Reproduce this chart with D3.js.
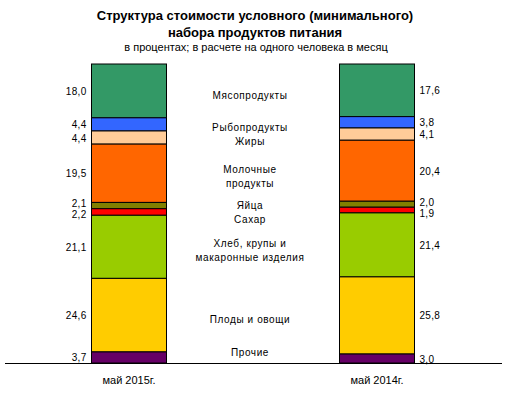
<!DOCTYPE html>
<html lang="ru">
<head>
  <meta charset="UTF-8">
  <title>Структура стоимости условного набора продуктов питания</title>
  <script src="https://cdn.jsdelivr.net/npm/d3@7"></script>
  <style>
    body { margin: 0; background: #fff; font-family: 'Liberation Sans', Arial, sans-serif; }
    svg { display: block; }
    .title { font-size: 13px; font-weight: bold; fill: #000; }
    .subtitle { font-size: 11px; fill: #000; }
    .val { font-size: 10px; fill: #000; letter-spacing: 0.3px; }
    .cat { font-size: 10px; fill: #000; letter-spacing: 0.6px; }
    .xlab { font-size: 11px; fill: #000; }
  </style>
</head>
<body>
  <svg id="chart" width="511" height="395"></svg>
  <script>
    const periods = ["май 2015г.", "май 2014г."];
    const categories = [
      "Мясопродукты", "Рыбопродукты", "Жиры", "Молочные продукты", "Яйца",
      "Сахар", "Хлеб, крупы и макаронные изделия", "Плоды и овощи", "Прочие"
    ];
    // label lines for the middle column
    const catLines = [
      ["Мясопродукты"], ["Рыбопродукты"], ["Жиры"], ["Молочные", "продукты"], ["Яйца"],
      ["Сахар"], ["Хлеб, крупы и", "макаронные изделия"], ["Плоды и овощи"], ["Прочие"]
    ];
    const values2015 = [18.0, 4.4, 4.4, 19.5, 2.1, 2.2, 21.1, 24.6, 3.7];
    const values2014 = [17.6, 3.8, 4.1, 20.4, 2.0, 1.9, 21.4, 25.8, 3.0];
    const colors = ["#339966", "#3366FF", "#FFCC99", "#FF6600", "#808000", "#FF0000", "#99CC00", "#FFCC00", "#660066"];

    const svg = d3.select("#chart");
    const fmt = v => v.toFixed(1).replace(".", ",");

    svg.append("text").attr("class", "title").attr("x", 255).attr("y", 20)
      .attr("text-anchor", "middle").text("Структура стоимости условного (минимального)");
    svg.append("text").attr("class", "title").attr("x", 255).attr("y", 37)
      .attr("text-anchor", "middle").text("набора продуктов питания");
    svg.append("text").attr("class", "subtitle").attr("x", 256).attr("y", 51)
      .attr("text-anchor", "middle").text("в процентах; в расчете на одного человека в месяц");

    const y = d3.scaleLinear().domain([0, 100]).range([363, 64]);
    const x = d3.scaleOrdinal().domain(periods).range([129, 377]);
    const barW = 75;

    const series = [values2015, values2014];
    const stacks = series.map(vals => {
      let acc = 100;
      return vals.map((v, i) => {
        const top = acc; acc -= v;
        return { i, v, top, bottom: acc };
      });
    });

    // keep labels from colliding
    function spread(pos, gap) {
      const out = pos.slice();
      for (let k = 0; k < 20; k++) {
        for (let i = 1; i < out.length; i++) {
          const d = out[i] - out[i - 1];
          if (d < gap) {
            const push = (gap - d) / 2;
            out[i - 1] -= push; out[i] += push;
          }
        }
      }
      return out;
    }

    stacks.forEach((stack, si) => {
      const cx = x(periods[si]);
      const g = svg.append("g");
      g.selectAll("rect").data(stack).enter().append("rect")
        .attr("x", cx - barW / 2)
        .attr("y", d => y(d.top))
        .attr("width", barW)
        .attr("height", d => y(d.bottom) - y(d.top))
        .attr("fill", d => colors[d.i])
        .attr("stroke", "#000").attr("stroke-width", 1);

      const ys = spread(stack.map(d => (y(d.top) + y(d.bottom)) / 2), 11);
      g.selectAll("text.val").data(stack).enter().append("text")
        .attr("class", "val")
        .attr("x", si === 0 ? cx - barW / 2 - 5 : cx + barW / 2 + 5)
        .attr("y", (d, i) => ys[i] + 4)
        .attr("text-anchor", si === 0 ? "end" : "start")
        .text(d => fmt(d.v));

      svg.append("text").attr("class", "xlab").attr("x", cx).attr("y", 384)
        .attr("text-anchor", "middle").text(periods[si]);
    });

    // middle category labels
    const midX = 250;
    const lineH = 14;
    const centers = categories.map((c, i) =>
      (stacks[0][i].top + stacks[0][i].bottom + stacks[1][i].top + stacks[1][i].bottom) / 4);
    // spread using block heights, keep inside the bars
    const blocks = centers.map((c, i) => ({ c: y(c) + 4, h: catLines[i].length * lineH }));
    const bottomLimit = y(0) - 4;
    for (let k = 0; k < 30; k++) {
      for (let i = 1; i < blocks.length; i++) {
        const a = blocks[i - 1], b = blocks[i];
        const need = (a.h + b.h) / 2;
        const d = b.c - a.c;
        if (d < need) {
          const push = (need - d) / 2;
          a.c -= push; b.c += push;
        }
      }
      blocks.forEach(b => { if (b.c + b.h / 2 > bottomLimit) b.c = bottomLimit - b.h / 2; });
    }
    blocks.forEach((b, i) => {
      const lines = catLines[i];
      const t = svg.append("text").attr("class", "cat").attr("text-anchor", "middle");
      lines.forEach((ln, j) => {
        t.append("tspan").attr("x", midX)
          .attr("y", b.c - (lines.length - 1) * lineH / 2 + j * lineH + 4)
          .text(ln);
      });
    });

    svg.append("line").attr("x1", 5).attr("x2", 502).attr("y1", 363.5).attr("y2", 363.5)
      .attr("stroke", "#000").attr("stroke-width", 1);
  </script>
</body>
</html>
